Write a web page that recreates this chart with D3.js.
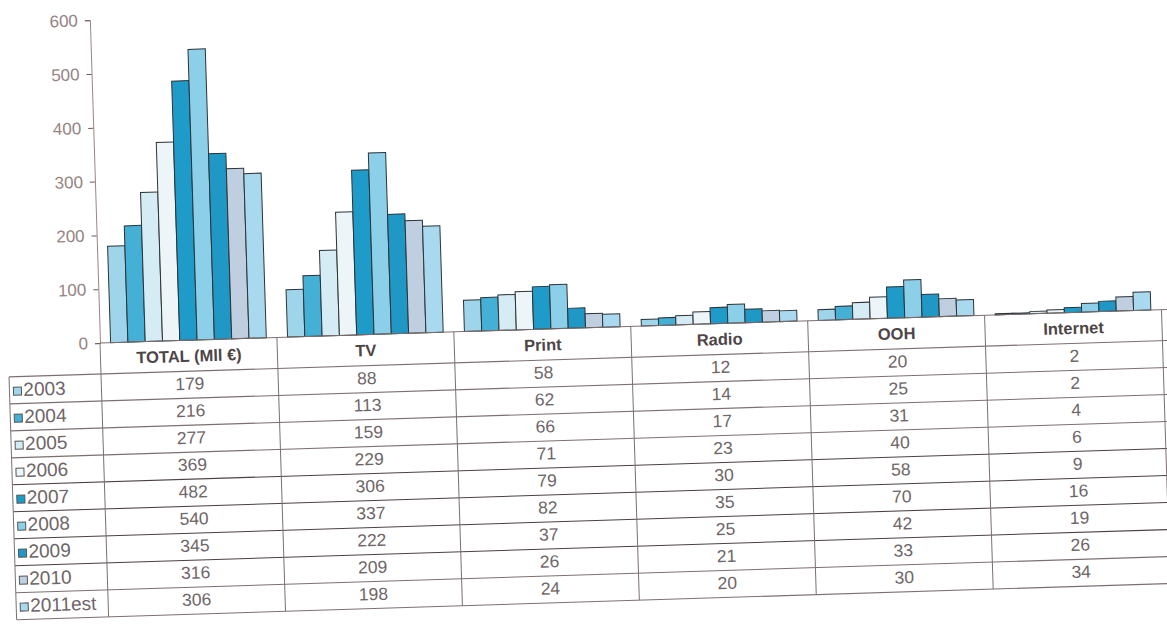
<!DOCTYPE html>
<meta charset="utf-8">
<script src="https://d3js.org/d3.v7.min.js"></script>
<style>
  body { margin: 0; background: #fff; }
  text { font-family: "Liberation Sans", Arial, sans-serif; }
</style>
<div id="chart"></div>
<script>

// categories (columns of the table)
var categories = ["TOTAL (Mll €)", "TV", "Print", "Radio", "OOH", "Internet"];
// years (series)
var years = ["2003", "2004", "2005", "2006", "2007", "2008", "2009", "2010", "2011est"];

// one array per category, in year order
var total    = [179, 216, 277, 369, 482, 540, 345, 316, 306];
var tv       = [88, 113, 159, 229, 306, 337, 222, 209, 198];
var print    = [58, 62, 66, 71, 79, 82, 37, 26, 24];
var radio    = [12, 14, 17, 23, 30, 35, 25, 21, 20];
var ooh      = [20, 25, 31, 40, 58, 70, 42, 33, 30];
var internet = [2, 2, 4, 6, 9, 16, 19, 26, 34];

var yTicks = [0, 100, 200, 300, 400, 500, 600];

var seriesByCat = [total, tv, print, radio, ooh, internet];

var colors = ["#9fd5ea", "#45b0d6", "#d6ecf4", "#eef5f8", "#1e9bc8",
              "#8ccfe9", "#1f98c5", "#c0cfe0", "#a8d9ee"];

var W = 1167, H = 628;
var colW = 177, headerH = 31, rowH = 27;

var svg = d3.select("#chart").append("svg")
    .attr("width", W)
    .attr("height", H);

// whole chart is slightly tilted like the scanned page
var g = svg.append("g")
    .attr("transform", "translate(100,343) rotate(-1.8)");

var x0 = d3.scaleBand()
    .domain(categories)
    .range([0, colW * categories.length])
    .paddingInner(0.12)
    .paddingOuter(0.06);

var x1 = d3.scaleBand()
    .domain(years)
    .range([0, x0.bandwidth()]);

var y = d3.scaleLinear()
    .domain([0, 600])
    .range([0, -323]);

// bars
var groups = g.append("g").selectAll("g")
  .data(categories)
  .join("g")
    .attr("transform", function(d) { return "translate(" + x0(d) + ",0)"; });

groups.selectAll("rect")
  .data(function(d, i) {
    return seriesByCat[i].map(function(v, j) { return {year: years[j], value: v, j: j}; });
  })
  .join("rect")
    .attr("x", function(d) { return x1(d.year); })
    .attr("y", function(d) { return y(d.value); })
    .attr("width", x1.bandwidth())
    .attr("height", function(d) { return -y(d.value); })
    .attr("fill", function(d) { return colors[d.j]; })
    .attr("stroke", "#2b3338")
    .attr("stroke-width", 1);

// y axis
var axis = g.append("g")
    .call(d3.axisLeft(y).tickValues(yTicks).tickSize(5).tickPadding(7));
axis.select(".domain").attr("stroke", "#9b8583");
axis.selectAll(".tick line").attr("stroke", "#6a5a5a");
axis.selectAll(".tick text")
    .attr("fill", "#958483")
    .style("font-size", "17px")
    .attr("font-family", "Liberation Sans, Arial, sans-serif");

// table
var lineColor = "#7d6f70";
var tableW = colW * categories.length;
var tableBottom = headerH + rowH * years.length;
var table = g.append("g");

// horizontal lines
table.append("line")
    .attr("x1", 0).attr("x2", tableW + 10)
    .attr("y1", 0).attr("y2", 0)
    .attr("stroke", lineColor);
table.selectAll(".hline")
  .data(d3.range(years.length + 1))
  .join("line")
    .attr("x1", -92).attr("x2", tableW + 10)
    .attr("y1", function(i) { return headerH + i * rowH; })
    .attr("y2", function(i) { return headerH + i * rowH; })
    .attr("stroke", function(i) { return i >= 4 && i <= 7 ? "#4a4040" : lineColor; })
    .attr("stroke-width", 1.1);

// vertical lines
table.selectAll(".vline")
  .data(d3.range(categories.length + 1))
  .join("line")
    .attr("x1", function(i) { return i * colW; })
    .attr("x2", function(i) { return i * colW; })
    .attr("y1", 0).attr("y2", tableBottom)
    .attr("stroke", lineColor);
table.append("line")
    .attr("x1", -92).attr("x2", -92)
    .attr("y1", headerH).attr("y2", tableBottom)
    .attr("stroke", lineColor);

// header labels
table.selectAll(".head")
  .data(categories)
  .join("text")
    .attr("x", function(d, i) { return i * colW + colW / 2; })
    .attr("y", headerH / 2 + 6)
    .attr("text-anchor", "middle")
    .attr("fill", "#4d4546")
    .style("font-size", "16.5px")
    .style("font-weight", "bold")
    .text(function(d) { return d; });

// values
categories.forEach(function(c, ci) {
  table.selectAll(".val" + ci)
    .data(seriesByCat[ci])
    .join("text")
      .attr("x", ci * colW + colW / 2)
      .attr("y", function(d, j) { return headerH + j * rowH + rowH / 2 + 5; })
      .attr("text-anchor", "middle")
      .attr("fill", "#6e6668")
      .style("font-size", "17.5px")
      .text(function(d) { return d; });
});

// legend column
var leg = table.selectAll(".leg")
  .data(years)
  .join("g")
    .attr("transform", function(d, j) { return "translate(-88," + (headerH + j * rowH) + ")"; });
leg.append("rect")
    .attr("x", 0).attr("y", rowH / 2 - 3)
    .attr("width", 8).attr("height", 8)
    .attr("fill", function(d, j) { return colors[j]; })
    .attr("stroke", "#555");
leg.append("text")
    .attr("x", 10)
    .attr("y", rowH / 2 + 6)
    .attr("fill", "#6e6668")
    .style("font-size", "19px")
    .text(function(d) { return d; });

</script>
